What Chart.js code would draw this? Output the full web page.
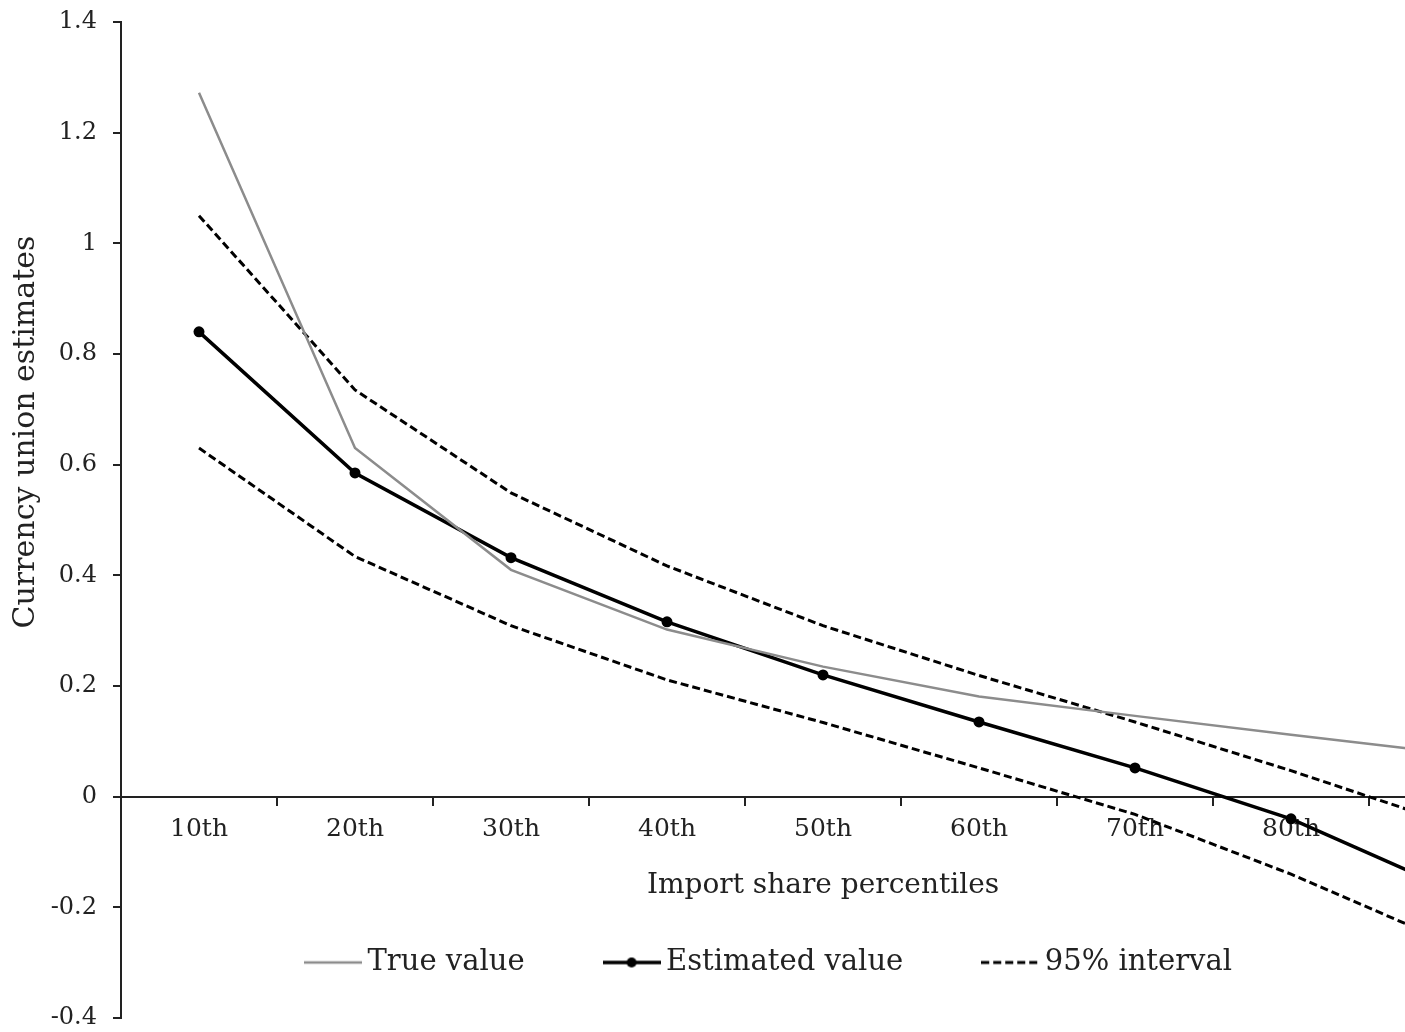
<!DOCTYPE html>
<html>
<head>
<meta charset="utf-8">
<script src="https://cdn.jsdelivr.net/npm/chart.js@4.4.1/dist/chart.umd.min.js"></script>
<style>
  html, body { margin: 0; padding: 0; background: #fff; overflow: hidden; }
  #wrap { width: 1545px; height: 1032px; }
</style>
</head>
<body>
<div id="wrap"><canvas id="chart" width="1545" height="1032"></canvas></div>
<script>
// the picture is cut off on the right, so the 90th percentile is only partly visible
const percentiles = ["10th", "20th", "30th", "40th", "50th", "60th", "70th", "80th", "90th"];
const trueValue = [1.272, 0.630, 0.410, 0.302, 0.235, 0.181, 0.146, 0.112, 0.079];
const estimatedValue = [0.840, 0.585, 0.432, 0.316, 0.220, 0.135, 0.052, -0.040, -0.165];
const upperBound = [1.050, 0.735, 0.549, 0.417, 0.309, 0.219, 0.135, 0.047, -0.047];
const lowerBound = [0.630, 0.434, 0.309, 0.211, 0.134, 0.052, -0.032, -0.140, -0.262];
const yTicks = [-0.4, -0.2, 0, 0.2, 0.4, 0.6, 0.8, 1, 1.2, 1.4];

const FONT = "DejaVu Serif";
const TEXT = "#222";
const DASH = [8, 4];

// little canvases used as legend symbols (line, line with dot, dashed line)
function makeSymbol(color, width, dash, dot) {
    const c = document.createElement("canvas");
    c.width = 58;
    c.height = 12;
    const g = c.getContext("2d");
    g.strokeStyle = color;
    g.lineWidth = width;
    g.setLineDash(dash);
    g.beginPath();
    g.moveTo(0, 6);
    g.lineTo(58, 6);
    g.stroke();
    if (dot) {
        g.fillStyle = color;
        g.beginPath();
        g.arc(29, 6, 5, 0, Math.PI * 2);
        g.fill();
    }
    return c;
}
const symbols = [
    makeSymbol("#8c8c8c", 2.5, [], false),
    makeSymbol("#000", 3.5, [], true),
    makeSymbol("#000", 3, DASH, false)
];

// legend sits inside the plot, below the x axis title
const legendInPlot = {
    id: "legendInPlot",
    afterLayout(chart) {
        const lg = chart.legend;
        lg.left = 0;
        lg.right = chart.width;
        lg.width = chart.width;
        lg.top = 861;
        lg.bottom = chart.height;
        lg.height = lg.bottom - lg.top;
    }
};

// y axis title, placed a bit above the middle like in the original
const yTitle = {
    id: "yTitle",
    afterDraw(chart) {
        const ctx = chart.ctx;
        ctx.save();
        ctx.translate(26, 432);
        ctx.rotate(-Math.PI / 2);
        ctx.font = `30px "${FONT}"`;
        ctx.fillStyle = TEXT;
        ctx.textAlign = "center";
        ctx.textBaseline = "middle";
        ctx.fillText("Currency union estimates", 0, 0);
        ctx.restore();
    }
};

new Chart(document.getElementById("chart"), {
    type: "line",
    data: {
        labels: percentiles,
        datasets: [
            { label: "True value", data: trueValue, borderColor: "#8c8c8c", borderWidth: 2.5, pointRadius: 0 },
            { label: "Estimated value", data: estimatedValue, borderColor: "#000", backgroundColor: "#000", borderWidth: 3.5,
              pointRadius: 5.5, pointBorderWidth: 0, pointBackgroundColor: "#000" },
            { label: "95% interval", data: upperBound, borderColor: "#000", borderWidth: 3, borderDash: DASH, pointRadius: 0 },
            { label: "95% interval lower", data: lowerBound, borderColor: "#000", borderWidth: 3, borderDash: DASH, pointRadius: 0 }
        ]
    },
    options: {
        responsive: false,
        animation: false,
        layout: { padding: { left: 0, right: 20, top: 22, bottom: 14 } },
        plugins: {
            tooltip: { enabled: false },
            legend: {
                position: "bottom",
                maxHeight: 0.001, // takes no room, moved in afterLayout
                labels: {
                    usePointStyle: true,
                    pointStyleWidth: 40,
                    boxHeight: 12,
                    padding: 87,
                    color: TEXT,
                    font: { family: FONT, size: 29 },
                    filter: (item) => item.datasetIndex !== 3,
                    generateLabels(chart) {
                        return Chart.defaults.plugins.legend.labels.generateLabels(chart).map((item) => {
                            item.pointStyle = symbols[Math.min(item.datasetIndex, 2)];
                            return item;
                        });
                    }
                }
            }
        },
        scales: {
            x: {
                position: { y: 0 },
                offset: true,
                z: 1,
                grid: { drawOnChartArea: false, offset: true, tickLength: 8, color: "#222", lineWidth: 2 },
                border: { color: "#222", width: 2 },
                ticks: {
                    padding: 10,
                    color: TEXT,
                    font: { family: FONT, size: 25 },
                    maxRotation: 0,
                    autoSkip: false,
                    showLabelBackdrop: true,
                    backdropColor: "#fff",
                    backdropPadding: { top: 8, bottom: 3, left: 4, right: 4 }
                },
                title: {
                    display: true,
                    text: "Import share percentiles",
                    color: TEXT,
                    font: { family: FONT, size: 28 },
                    padding: { top: 14, bottom: 0 }
                }
            },
            y: {
                min: -0.4,
                max: 1.4,
                afterFit(scale) {
                    scale.width = 121;
                    scale.paddingTop = 0;
                    scale.paddingBottom = 0;
                },
                afterBuildTicks(scale) { scale.ticks = yTicks.map((v) => ({ value: v })); },
                grid: { drawOnChartArea: false, tickLength: 8, color: "#222", lineWidth: 2 },
                border: { color: "#222", width: 2 },
                ticks: {
                    padding: 16,
                    color: TEXT,
                    font: { family: FONT, size: 24 },
                    callback: (v) => String(v)
                }
            }
        }
    },
    plugins: [legendInPlot, yTitle]
});
</script>
</body>
</html>
